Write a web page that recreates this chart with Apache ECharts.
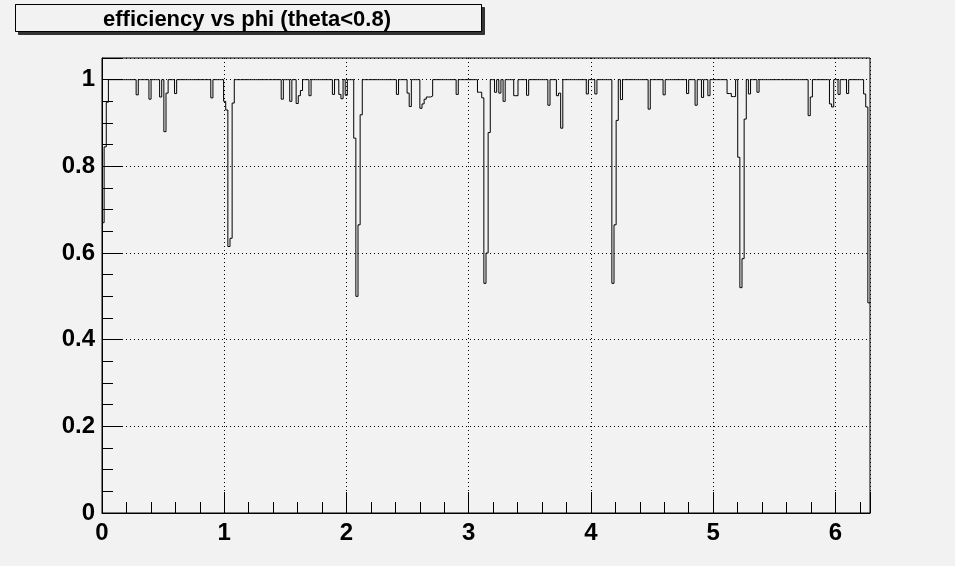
<!DOCTYPE html>
<html><head><meta charset="utf-8">
<script src="https://cdn.jsdelivr.net/npm/echarts@6/dist/echarts.min.js"></script>
<style>html,body{margin:0;padding:0;background:#f2f2f2}#c{width:955px;height:566px}</style>
</head><body><div id="c"></div><script>
// ---- data ----
const titleText = 'efficiency vs phi (theta<0.8)';
const nBins = 360;                 // 1-degree bins over [0, 2*pi]
const phiMin = 0;
const phiMax = 6.283185307;
const baseEff = 1;                 // efficiency of every bin not listed below
const xTickLabels = ['0', '1', '2', '3', '4', '5', '6'];
const yTickLabels = ['0', '0.2', '0.4', '0.6', '0.8', '1'];
const lowBins = [0, 1, 2, 16, 22, 27, 29, 30, 34, 51,
  57, 58, 59, 60, 61, 84, 88, 91, 92, 93, 97, 108, 111, 112, 114,
  118, 119, 120, 121, 138, 143, 144, 149, 150, 151, 152, 153, 154, 166,
  176, 177, 178, 179, 180, 181, 184, 186, 188, 193, 194, 199, 209, 213, 214, 215,
  227, 231, 239, 240, 241, 243, 256, 263, 274, 278, 281, 284,
  293, 294, 295, 296, 298, 299, 300, 301, 303, 307,
  331, 332, 341, 342, 345, 349, 357, 358, 359];
const lowEff = [0.67, 0.845, 0.948, 0.965, 0.955, 0.96, 0.88, 0.969, 0.968, 0.958,
  0.95, 0.93, 0.615, 0.634, 0.946, 0.955, 0.95, 0.945, 0.963, 0.975, 0.963, 0.966, 0.966, 0.956, 0.964,
  0.865, 0.50, 0.665, 0.919, 0.966, 0.969, 0.938, 0.934, 0.944, 0.955, 0.96, 0.96, 0.962, 0.966,
  0.971, 0.971, 0.958, 0.53, 0.60, 0.878, 0.971, 0.969, 0.95, 0.963, 0.963, 0.964, 0.941, 0.963, 0.969, 0.888,
  0.967, 0.967, 0.53, 0.665, 0.906, 0.954, 0.932, 0.965, 0.968, 0.941, 0.959, 0.963,
  0.968, 0.968, 0.961, 0.961, 0.821, 0.52, 0.587, 0.909, 0.967, 0.971,
  0.917, 0.96, 0.944, 0.937, 0.966, 0.968, 0.967, 0.937, 0.485];

// ---- build histogram step data ----
const binW = (phiMax - phiMin) / nBins;
const eff = [];
for (let i = 0; i < nBins; i++) eff.push(baseEff);
lowBins.forEach((b, k) => { eff[b] = lowEff[k]; });
const stepData = eff.map((v, i) => [phiMin + i * binW, v]);
stepData.push([phiMax, eff[nBins - 1]]);

const font = 'Liberation Sans, Arial, Helvetica, sans-serif';
const chart = echarts.init(document.getElementById('c'), null, {renderer: 'canvas'});
chart.setOption({
  backgroundColor: '#f2f2f2',
  animation: false,
  graphic: [
    {type: 'rect', shape: {x: 15.5, y: 4.5, width: 466, height: 27},
     style: {fill: '#f2f2f2', stroke: '#000', lineWidth: 1,
             shadowColor: '#333', shadowOffsetX: 3, shadowOffsetY: 3, shadowBlur: 0}, z: 10},
    {type: 'rect', shape: {x: 15.5, y: 4.5, width: 466, height: 27},
     style: {fill: '#f2f2f2', stroke: '#000', lineWidth: 1}, z: 11},
    {type: 'text', x: 247, y: 20, z: 12,
     style: {text: titleText, font: 'bold 22px ' + font, fill: '#000',
             textAlign: 'center', textVerticalAlign: 'middle'}}
  ],
  grid: {left: 102, right: 85, top: 58, bottom: 53, show: true,
         borderColor: '#000', borderWidth: 1, backgroundColor: 'transparent'},
  xAxis: {
    type: 'value', min: phiMin, max: phiMax, interval: 1,
    axisLine: {show: true, lineStyle: {color: '#000', width: 1}},
    axisTick: {show: true, inside: true, length: 21, lineStyle: {color: '#000'}},
    minorTick: {show: true, splitNumber: 5, length: 11, lineStyle: {color: '#000'}},
    splitLine: {show: true, lineStyle: {color: '#000', type: [1, 3], width: 1}},
    axisLabel: {color: '#000', fontFamily: font, fontWeight: 'bold', fontSize: 24, margin: 8,
      showMaxLabel: false,
      formatter: v => { const r = Math.round(v); return Math.abs(v - r) < 1e-6 && xTickLabels[r] !== undefined ? xTickLabels[r] : ''; }}
  },
  yAxis: {
    type: 'value', min: 0, max: 1.05, interval: 0.2,
    axisLine: {show: true, lineStyle: {color: '#000', width: 1}},
    axisTick: {show: true, inside: true, length: 21, lineStyle: {color: '#000'}},
    minorTick: {show: true, splitNumber: 4, length: 11, lineStyle: {color: '#000'}},
    splitLine: {show: true, lineStyle: {color: '#000', type: [1, 3], width: 1}},
    axisLabel: {color: '#000', fontFamily: font, fontWeight: 'bold', fontSize: 24, margin: 7,
      showMaxLabel: false,
      formatter: v => { const r = Math.round(v * 5); return Math.abs(v * 5 - r) < 1e-6 && yTickLabels[r] !== undefined ? yTickLabels[r] : ''; }}
  },
  series: [{
    type: 'line', step: 'end', data: stepData, showSymbol: false, symbol: 'none',
    lineStyle: {color: '#000', width: 1}, z: 5, clip: true
  }]
});
</script></body></html>
